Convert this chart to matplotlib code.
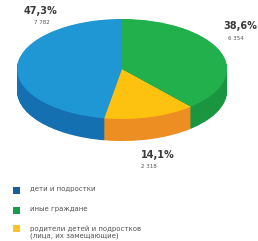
import matplotlib.pyplot as plt

# data (legend order)
labels = ["дети и подростки", "иные граждане",
          "родители детей и подростков\n(лица, их замещающие)"]
shares = [47.3, 38.6, 14.1]
counts = ["7 782", "6 354", "2 318"]
share_text = ["47,3%", "38,6%", "14,1%"]

top_colors = ["#1e97d4", "#21b04b", "#fcc20f"]
side_colors = ["#1570b2", "#19963f", "#ec8e22"]
legend_colors = ["#1b5f98", "#1a9a4d", "#fbc22a"]

# pie drawing order: blue, yellow, green counterclockwise from 12 o'clock
order = [0, 2, 1]
vals = [shares[i] for i in order]

fig = plt.figure(figsize=(2.58, 2.41), dpi=100)
ax = fig.add_axes([0, 0, 1, 1])
ax.set_xlim(0, 258)
ax.set_ylim(241, 0)
ax.axis("off")

depth = 0.44
pax = fig.add_axes([17 / 258, (241 - 141) / 241, 210 / 258, 122 / 241])
n_layers = 40
for k in range(n_layers):
    cy = -depth + depth * k / n_layers
    pax.pie(vals, colors=[side_colors[i] for i in order], startangle=90,
            counterclock=True, center=(0, cy), radius=1,
            wedgeprops=dict(linewidth=0))
pax.pie(vals, colors=[top_colors[i] for i in order], startangle=90,
        counterclock=True, center=(0, 0), radius=1,
        wedgeprops=dict(linewidth=0))
pax.set_aspect("auto")
pax.set_xlim(-1, 1)
pax.set_ylim(-1 - depth, 1)
pax.axis("off")

# value labels: (x of percent, y of percent, x of count, y of count)
label_pos = [(41, 11, 42, 22), (240, 26, 236, 39), (158, 155, 149, 167)]
for (x1, y1, x2, y2), st, c in zip(label_pos, share_text, counts):
    ax.text(x1, y1, st, fontsize=7, fontweight="bold", color="#3a3a3a",
            ha="center", va="center")
    ax.text(x2, y2, c, fontsize=4, color="#555555", ha="center", va="center")

# legend
leg_y = [190, 210, 228]
for y, lab, col in zip(leg_y, labels, legend_colors):
    ax.add_patch(plt.Rectangle((13, y - 3.5), 7, 7, color=col, lw=0))
    if "\n" in lab:
        ax.text(30, y - 3, lab, fontsize=5, color="#555555", ha="left",
                va="top", linespacing=1.2)
    else:
        ax.text(30, y - 1.5, lab, fontsize=5, color="#555555", ha="left",
                va="center")

fig.savefig("out.png", dpi=100)
